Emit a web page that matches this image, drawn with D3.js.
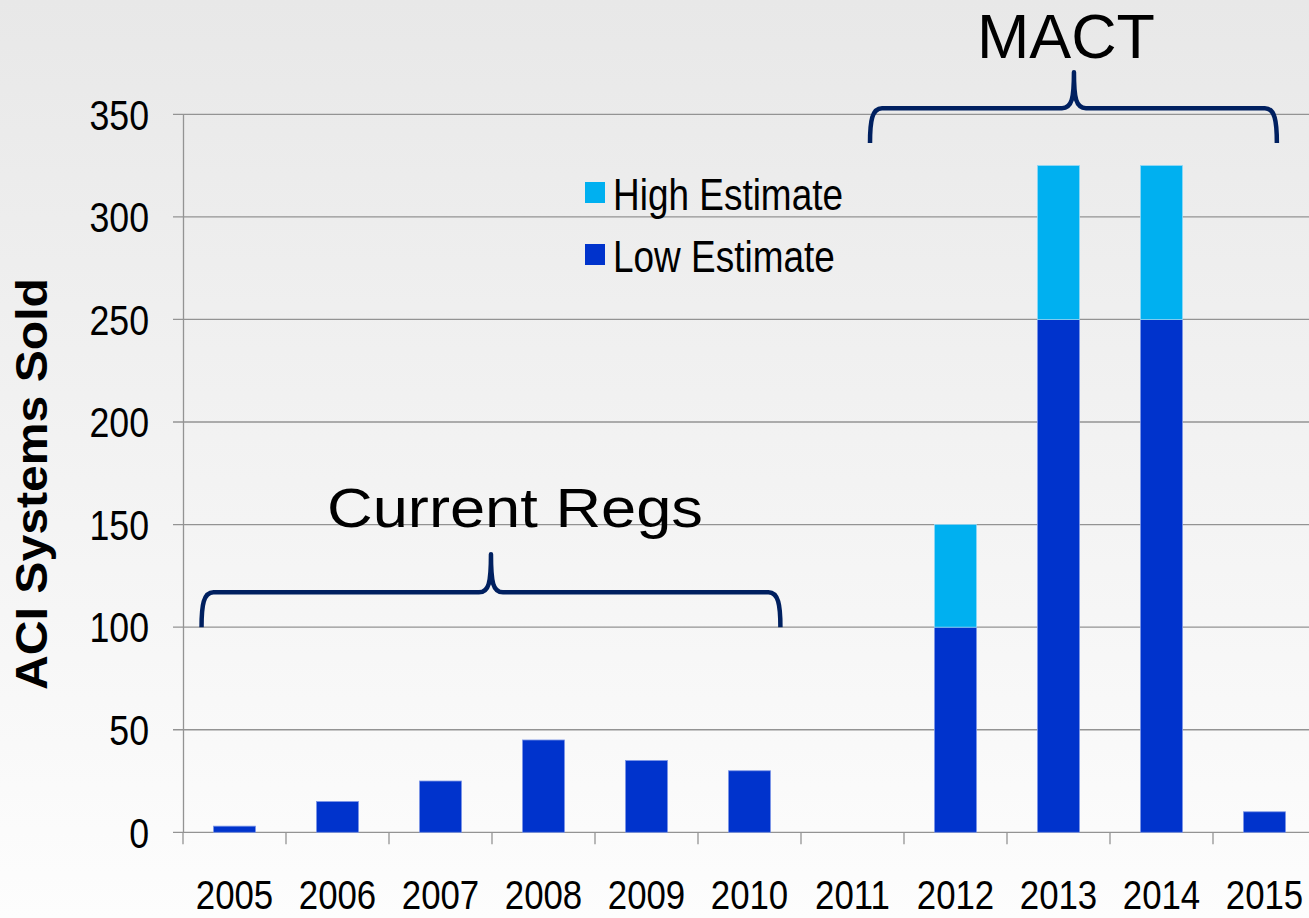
<!DOCTYPE html>
<html>
<head>
<meta charset="utf-8">
<script src="https://cdn.jsdelivr.net/npm/d3@7"></script>
<style>
  html, body { margin: 0; padding: 0; overflow: hidden; }
  svg { display: block; font-family: "Liberation Sans", Arial, sans-serif; }
</style>
</head>
<body>
<div id="chart"></div>
<script>
// data
var years = ["2005", "2006", "2007", "2008", "2009", "2010", "2011", "2012", "2013", "2014", "2015"];
var lowEstimate  = [3, 15, 25, 45, 35, 30, 0, 100, 250, 250, 10];
var highEstimate = [3, 15, 25, 45, 35, 30, 0, 150, 325, 325, 10];
var yTicks = [0, 50, 100, 150, 200, 250, 300, 350];
var seriesNames = ["High Estimate", "Low Estimate"];

var width = 1309, height = 918;
var colors = { low: "#0033cc", high: "#00b0f0", brace: "#002060" };

var svg = d3.select("#chart").append("svg")
    .attr("width", width)
    .attr("height", height);

// background gradient
var grad = svg.append("defs").append("linearGradient")
    .attr("id", "bg").attr("x1", 0).attr("y1", 0).attr("x2", 0).attr("y2", 1);
grad.append("stop").attr("offset", "0%").attr("stop-color", "#e8e8e8");
grad.append("stop").attr("offset", "100%").attr("stop-color", "#fdfdfd");
svg.append("rect").attr("width", width).attr("height", height).attr("fill", "url(#bg)");

var x = d3.scaleBand().domain(years).range([183, 1316]).padding(0);
var y = d3.scaleLinear().domain([0, 350]).range([832.3, 114.3]);
var barW = 42;

// gridlines
svg.append("g").selectAll("line")
    .data(yTicks)
    .enter().append("line")
    .attr("x1", 173).attr("x2", width)
    .attr("y1", d => y(d)).attr("y2", d => y(d))
    .attr("stroke", "#939393").attr("stroke-width", 1.3);

// y axis
var yAxis = svg.append("g")
    .attr("transform", "translate(183,0)")
    .call(d3.axisLeft(y).tickValues(yTicks).tickSize(0).tickPadding(0));
yAxis.select(".domain").attr("stroke", "#939393").attr("stroke-width", 1.3);
yAxis.selectAll("text")
    .attr("font-size", 42)
    .attr("font-family", "Liberation Sans, Arial, sans-serif")
    .attr("fill", "#000")
    .attr("x", -34 / 0.85)
    .attr("dy", "0.35em")
    .attr("transform", "scale(0.85,1)");

// x axis: ticks on band boundaries
var stacked = years.map((yr, i) => ({ year: yr, low: lowEstimate[i], high: highEstimate[i] }));
svg.append("g").selectAll("line")
    .data(d3.range(years.length + 1))
    .enter().append("line")
    .attr("x1", i => x.range()[0] + i * x.step())
    .attr("x2", i => x.range()[0] + i * x.step())
    .attr("y1", y(0)).attr("y2", y(0) + 12)
    .attr("stroke", "#939393").attr("stroke-width", 1.3);

svg.append("g").selectAll("text")
    .data(years)
    .enter().append("text")
    .attr("transform", d => "translate(" + (x(d) + x.bandwidth() / 2) + "," + (y(0) + 77) + ") scale(0.87,1)")
    .attr("text-anchor", "middle")
    .attr("font-size", 40)
    .attr("fill", "#000")
    .text(d => d);

// bars
var bars = svg.append("g");
bars.selectAll(".low")
    .data(stacked.filter(d => d.low > 0))
    .enter().append("rect")
    .attr("class", "low")
    .attr("x", d => x(d.year) + (x.bandwidth() - barW) / 2)
    .attr("width", barW)
    .attr("y", d => y(d.low))
    .attr("height", d => y(0) - y(d.low))
    .attr("fill", colors.low)
    .attr("stroke", "#7d96e6").attr("stroke-width", 0.8);
bars.selectAll(".high")
    .data(stacked.filter(d => d.high > d.low))
    .enter().append("rect")
    .attr("class", "high")
    .attr("x", d => x(d.year) + (x.bandwidth() - barW) / 2)
    .attr("width", barW)
    .attr("y", d => y(d.high))
    .attr("height", d => y(d.low) - y(d.high))
    .attr("fill", colors.high)
    .attr("stroke", "#8fd8f5").attr("stroke-width", 0.8);

// legend
var legend = svg.append("g").selectAll("g")
    .data(seriesNames)
    .enter().append("g")
    .attr("transform", (d, i) => "translate(585," + (210 + i * 62) + ")");
legend.append("rect")
    .attr("x", 0).attr("y", -28).attr("width", 20).attr("height", 21)
    .attr("fill", d => d === "High Estimate" ? colors.high : colors.low);
legend.append("text")
    .attr("transform", "translate(28,0) scale(0.84,1)")
    .attr("font-size", 44)
    .attr("fill", "#000")
    .text(d => d);

// y axis title
svg.append("text")
    .attr("transform", "translate(47,278) rotate(-90)")
    .attr("x", -412)
    .attr("font-size", 45)
    .attr("font-weight", "bold")
    .attr("textLength", 412)
    .attr("lengthAdjust", "spacingAndGlyphs")
    .attr("fill", "#000")
    .text("ACI Systems Sold");

// braces (in band-step units along x, value units along y)
var xi = d3.scaleLinear().domain([0, years.length]).range(x.range());
var braces = [
  { label: "Current Regs", from: 0.18, to: 5.8, tip: 2.99, base: 100, bar: 117, top: 135.5,
    textX: 515, textY: 527, size: 56, textW: 376 },
  { label: "MACT", from: 6.67, to: 10.62, tip: 8.65, base: 336, bar: 353, top: 370.5,
    textX: 1066, textY: 58, size: 63, textW: 178 }
];

function bracePath(b) {
  var x0 = xi(b.from), x1 = xi(b.to), xm = xi(b.tip);
  var yb = y(b.base), yh = y(b.bar), yt = y(b.top);
  return "M" + x0 + "," + yb +
    " C" + x0 + "," + (yb - 22) + " " + (x0 + 2) + "," + yh + " " + (x0 + 12) + "," + yh +
    " L" + (xm - 12) + "," + yh +
    " C" + (xm - 2) + "," + yh + " " + xm + "," + (yh - 10) + " " + xm + "," + yt +
    " C" + xm + "," + (yh - 10) + " " + (xm + 2) + "," + yh + " " + (xm + 12) + "," + yh +
    " L" + (x1 - 12) + "," + yh +
    " C" + (x1 - 2) + "," + yh + " " + x1 + "," + (yb - 22) + " " + x1 + "," + yb;
}

svg.append("g").selectAll("path")
    .data(braces)
    .enter().append("path")
    .attr("d", bracePath)
    .attr("fill", "none")
    .attr("stroke", colors.brace)
    .attr("stroke-width", 4.5)
    .attr("stroke-linejoin", "round");

svg.append("g").selectAll("text")
    .data(braces)
    .enter().append("text")
    .attr("x", d => d.textX - d.textW / 2)
    .attr("y", d => d.textY)
    .attr("font-size", d => d.size)
    .attr("textLength", d => d.textW)
    .attr("lengthAdjust", "spacingAndGlyphs")
    .attr("fill", "#000")
    .text(d => d.label);
</script>
</body>
</html>
